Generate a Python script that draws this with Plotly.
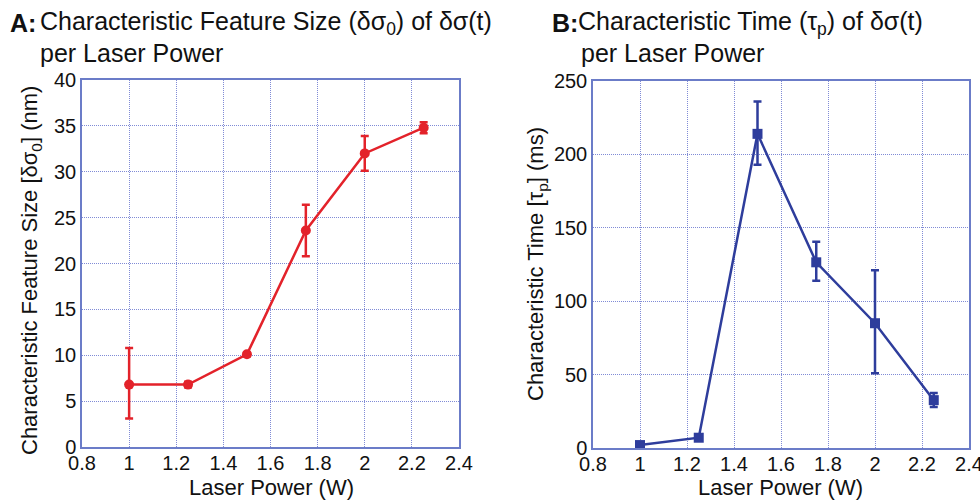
import plotly.graph_objects as go

# ---- data ----
power = [1.0, 1.25, 1.5, 1.75, 2.0, 2.25]
size_nm = [6.8, 6.8, 10.1, 23.6, 32.0, 34.8]
size_err_plus = [4.0, 0.3, 0.2, 2.8, 1.9, 0.6]
size_err_minus = [3.7, 0.3, 0.2, 2.8, 1.9, 0.6]

time_ms = [2, 7, 214, 126.5, 85, 32.6]
time_err_plus = [0, 0, 22, 14, 36, 4.8]
time_err_minus = [0, 0, 21, 12.5, 34, 4.6]

x_ticks = [0.8, 1, 1.2, 1.4, 1.6, 1.8, 2, 2.2, 2.4]
y1_ticks = [0, 5, 10, 15, 20, 25, 30, 35, 40]
y2_ticks = [0, 50, 100, 150, 200, 250]

RED = "#e3222a"
BLUE = "#2e3d9c"
AXC = "#6b7cc8"
GRIDC = "rgba(85,100,200,0.75)"
FONT = "Arial, Liberation Sans, sans-serif"
TICK = 20

fig = go.Figure()
fig.add_trace(go.Scatter(
    x=power, y=size_nm, mode="lines+markers", xaxis="x", yaxis="y",
    line=dict(color=RED, width=2.5),
    marker=dict(symbol="circle", size=10, color=RED),
    error_y=dict(type="data", array=size_err_plus, arrayminus=size_err_minus,
                 color=RED, thickness=2.5, width=4),
    showlegend=False))
fig.add_trace(go.Scatter(
    x=power, y=time_ms, mode="lines+markers", xaxis="x2", yaxis="y2",
    line=dict(color=BLUE, width=2.5),
    marker=dict(symbol="square", size=10, color=BLUE),
    error_y=dict(type="data", array=time_err_plus, arrayminus=time_err_minus,
                 color=BLUE, thickness=2.5, width=4),
    showlegend=False))

W, H = 980, 502
ydom = [1 - 447 / H, 1 - 80 / H]
ydom2 = [1 - 448 / H, 1 - 81 / H]

common_x = dict(range=[0.8, 2.4], tickvals=x_ticks, ticktext=[str(v) for v in x_ticks],
                showline=True, linecolor=AXC, linewidth=1.5, mirror=True,
                showgrid=True, gridcolor=GRIDC, griddash="1px,1px", gridwidth=1,
                zeroline=False, ticks="", tickfont=dict(size=TICK, color="#111", family=FONT),
                ticklabeloverflow="allow", ticklabelstandoff=-3,
                automargin=False, fixedrange=True)
common_y = dict(showline=True, linecolor=AXC, linewidth=1.5, mirror=True,
                showgrid=True, gridcolor=GRIDC, griddash="1px,1px", gridwidth=1,
                zeroline=False, ticks="", tickfont=dict(size=TICK, color="#111", family=FONT),
                ticklabeloverflow="allow",
                automargin=False, fixedrange=True)

fig.update_layout(
    width=W, height=H,
    margin=dict(l=0, r=0, t=0, b=0),
    paper_bgcolor="white", plot_bgcolor="white",
    font=dict(family=FONT, color="#111"),
    xaxis=dict(domain=[82 / W, 459 / W], anchor="y", **common_x),
    yaxis=dict(domain=ydom, anchor="x", range=[0, 40], tickvals=y1_ticks, **common_y),
    xaxis2=dict(domain=[593 / W, 969 / W], anchor="y2", **common_x),
    yaxis2=dict(domain=ydom2, anchor="x2", range=[0, 250], tickvals=y2_ticks, **common_y),
)

ann = []
def txt(x, y, text, size=21, xanchor="left", yanchor="middle", angle=0, align="left"):
    ann.append(dict(x=x / W, y=1 - y / H, xref="paper", yref="paper", text=text,
                    showarrow=False, xanchor=xanchor, yanchor=yanchor, textangle=angle,
                    align=align, font=dict(size=size, family=FONT, color="#111")))

# Panel titles
TS = 25
txt(8, 23, "<b>A:</b>", size=TS)
txt(38, 23, "Characteristic Feature Size (δσ<sub>0</sub>) of δσ(t)", size=TS)
txt(38, 53, "per Laser Power", size=TS)
txt(550, 23, "<b>B:</b>", size=TS)
txt(576, 23, "Characteristic Time (τ<sub>p</sub>) of δσ(t)", size=TS)
txt(579, 53, "per Laser Power", size=TS)

# Axis titles
AS = 22
txt(271, 487, "Laser Power (W)", size=AS, xanchor="center")
txt(780, 487, "Laser Power (W)", size=AS, xanchor="center")
txt(31, 271, "Characteristic Feature Size [δσ<sub>0</sub>] (nm)", size=AS, xanchor="center", angle=-90)
txt(537, 264, "Characteristic Time [τ<sub>p</sub>] (ms)", size=AS, xanchor="center", angle=-90)

fig.update_layout(annotations=ann)
fig.write_html("out.html")
